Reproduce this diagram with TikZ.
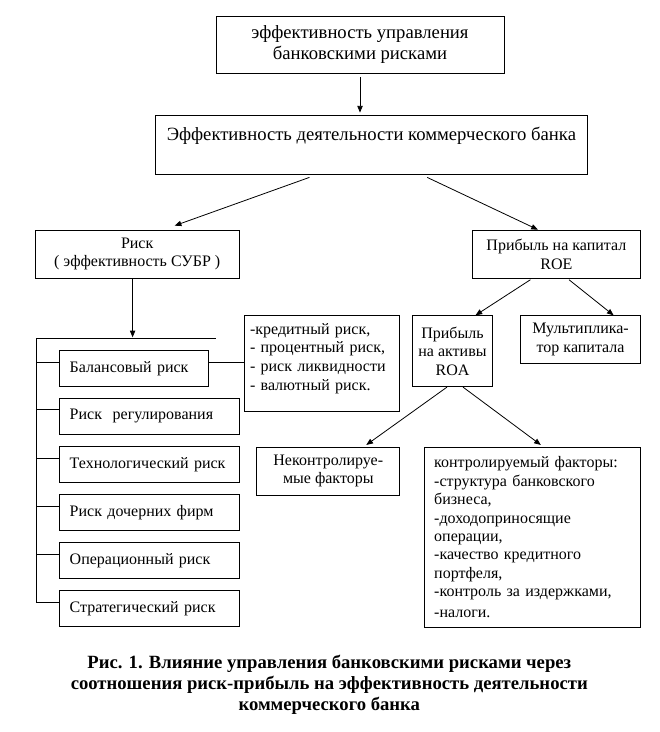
\documentclass[tikz,border=0pt]{standalone}
\usepackage{fontspec}
\setmainfont{Liberation Serif}
\usetikzlibrary{positioning,calc,arrows.meta}

\begin{document}
\begin{tikzpicture}[x=0.75pt, y=-0.75pt,
    box/.style={draw, line width=0.6pt, inner sep=0pt, align=center,
                font=\fontsize{12}{13.8}\selectfont},
    bigbox/.style={box, font=\fontsize{14}{16.1}\selectfont},
    riskbox/.style={box, anchor=west, align=left, inner xsep=7.5pt,
                    minimum height=27pt, text width=#1},
    riskbox/.default=119.8pt,
    arr/.style={-{Triangle[length=5pt,width=4pt]}, line width=0.6pt},
    conn/.style={line width=0.6pt}]
  \useasboundingbox (0,0) rectangle (660,732);

  % upper part
  \node[bigbox, minimum width=216pt, minimum height=42.75pt] (mgmt) at (360,44.5)
      {эффективность управления\\банковскими рисками};
  \node[bigbox, minimum width=323.5pt, minimum height=44.25pt] (perf) at (371.4,144.5)
      {Эффективность деятельности коммерческого банка\\\mbox{}};
  \node[box, minimum width=152.7pt, minimum height=36.2pt] (risk) at (137.2,254.2)
      {Риск\\( эффективность СУБР )};
  \node[box, minimum width=126.3pt, minimum height=36.2pt] (roe) at (556.4,254.2)
      {Прибыль на капитал\\ROE};
  \node[box, minimum width=59.9pt, minimum height=53.25pt] (roa) at (452.5,351.2)
      {Прибыль\\на активы\\ROA};
  \node[box, minimum width=90pt, minimum height=35.7pt] (mult) at (580.6,339.5)
      {Мультиплика-\\тор капитала};
  \node[box, minimum width=116.8pt, minimum height=72pt, align=left,
        text width=108pt] (kinds) at (322,363.7)
      {-кредитный риск,\\- процентный риск,\\- риск ликвидности\\[1pt]- валютный риск.\\[-4pt]\mbox{}};
  \node[box, minimum width=107.3pt, minimum height=35.8pt] (unctrl) at (328.3,471.2)
      {Неконтролируе-\\мые факторы};
  \node[box, minimum height=135pt, align=left, inner xsep=7.5pt,
        text width=147.3pt] (ctrl) at (532.4,537.3)
      {контролируемый факторы:\\-структура банковского\\бизнеса,\\-доходоприносящие\\операции,\\-качество кредитного\\портфеля,\\-контроль за издержками,\\[2pt]-налоги.};

  \draw[arr, shorten <=3pt, shorten >=1.5pt] (mgmt.south) -- (mgmt.south |- perf.north);
  \draw[arr] ($(perf.south)+(-62,3)$) -- ($(risk.north)+(37.5,-4)$);
  \draw[arr] ($(perf.south)+(55.8,3)$) -- ($(roe.north)+(-18.5,0)$);
  \draw[arr] ($(roe.south)+(-26,1)$) -- ($(roa.north)+(23,0)$);
  \draw[arr] ($(roe.south)+(12.6,1)$) -- ($(mult.north)+(33,0)$);
  \draw[arr] ($(roa.south)+(-5.5,0)$) -- ($(unctrl.north)+(38,-2)$);
  \draw[arr] ($(roa.south)+(10.5,0)$) -- ($(ctrl.north)+(8.4,-2)$);

  % kinds of risk
  \node[riskbox=96.75pt] (r1) at (59.3,368.4) {Балансовый риск};
  \foreach \n/\y/\t in {2/416.2/Риск~ регулирования, 3/464.5/Технологический риск,
                        4/512.3/Риск дочерних фирм, 5/560.3/Операционный риск,
                        6/608.7/Стратегический риск}{
      \node[riskbox] (r\n) at (59.3,\y) {\t};
  }
  \coordinate (bus) at (36,338.3);
  \draw[conn] (bus) -- ++(179.5,0);
  \draw[arr] ($(risk.south)+(-4.6,0)$) coordinate (rs) -- ($(rs |- bus)+(0,-1)$);
  \foreach \n in {1,...,6}{
      \draw[conn] ($(r\n.north west)+(0,12)$) coordinate (t\n) -- (t\n -| bus);
  }
  \draw[conn] (bus) -- (bus |- t6);
  \draw[conn] ($(r1.north east)+(0,12)$) coordinate (bt) -- (bt -| kinds.west);

  \node[align=center, font=\fontsize{14}{15.75}\selectfont\bfseries] (caption) at (329.3,684.3)
      {Рис. 1. Влияние управления банковскими рисками через\\соотношения риск-прибыль на эффективность деятельности\\коммерческого банка};
\end{tikzpicture}
\end{document}
